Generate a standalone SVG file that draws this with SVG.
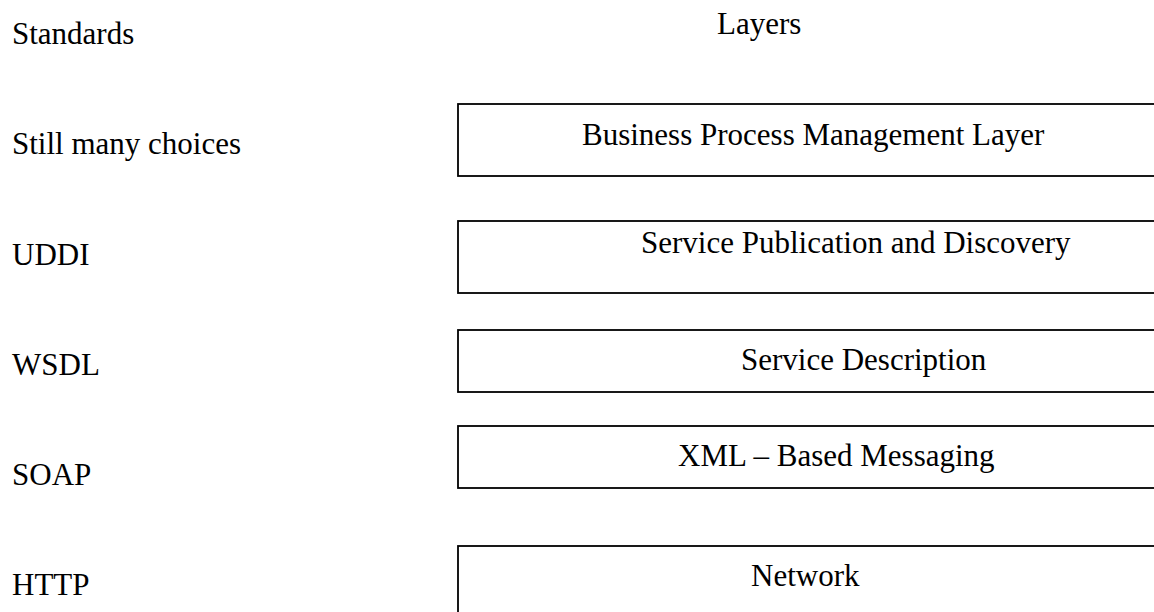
<svg xmlns="http://www.w3.org/2000/svg" width="1154" height="612" viewBox="0 0 1154 612">
<style>
text{font-family:"Liberation Serif","Times New Roman",serif;font-size:31px;fill:#000}
.box{fill:#fff;stroke:#000;stroke-width:1.8}
</style>
<rect width="1154" height="612" fill="#fff"/>
<g id="standards-labels">
<text x="12" y="44">Standards</text>
<text x="12" y="154">Still many choices</text>
<text x="12" y="265">UDDI</text>
<text x="12" y="375">WSDL</text>
<text x="12" y="485">SOAP</text>
<text x="12" y="595">HTTP</text>
</g>
<g id="layers-title"><text x="717" y="34">Layers</text></g>
<g id="bpm"><rect class="box" x="458" y="104" width="720" height="72"/><text x="582" y="145">Business Process Management Layer</text></g>
<g id="publication"><rect class="box" x="458" y="221" width="720" height="72"/><text x="641" y="253">Service Publication and Discovery</text></g>
<g id="description"><rect class="box" x="458" y="330" width="720" height="62"/><text x="741" y="370">Service Description</text></g>
<g id="messaging"><rect class="box" x="458" y="426" width="720" height="62"/><text x="678" y="466">XML – Based Messaging</text></g>
<g id="network"><rect class="box" x="458" y="546" width="720" height="100"/><text x="751" y="586">Network</text></g>
<g id="connectors"></g>
</svg>
